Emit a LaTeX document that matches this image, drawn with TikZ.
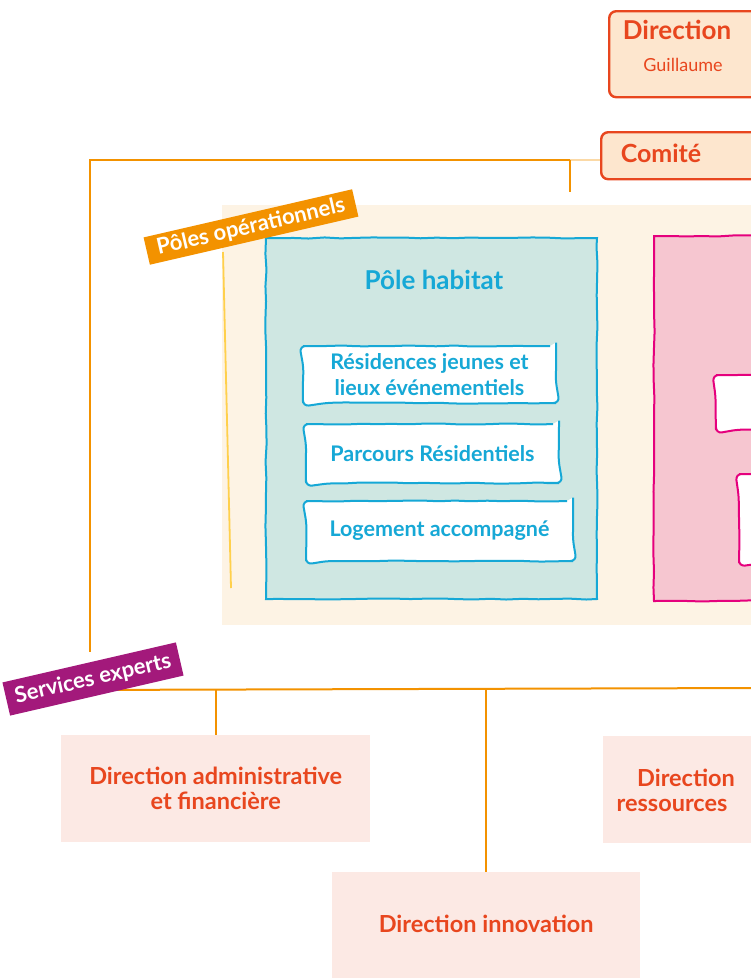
\documentclass[tikz,border=0pt]{standalone}
\usepackage{fontspec}
\setmainfont{Lato}
\usetikzlibrary{positioning, backgrounds, calc, decorations.pathmorphing}

\definecolor{dirred}{HTML}{E8461E}
\definecolor{headfill}{HTML}{FDE6CE}
\definecolor{lineorange}{HTML}{F39200}
\definecolor{polescream}{HTML}{FDF3E4}
\definecolor{lineyellow}{HTML}{FFD04C}
\definecolor{habitatfill}{HTML}{CFE7E2}
\definecolor{habitatblue}{HTML}{16A8D6}
\definecolor{pinkfill}{HTML}{F6C6D0}
\definecolor{magenta}{HTML}{E5007D}
\definecolor{tagpurple}{HTML}{A3197B}
\definecolor{servicefill}{HTML}{FCE9E4}

\begin{document}
\begin{tikzpicture}[
    x=1pt, y=-1pt,
    sketch/.style={decorate, decoration={random steps, segment length=16pt, amplitude=0.6pt}},
    link/.style={draw=lineorange, line width=2pt},
    headbox/.style={rectangle, draw=dirred, line width=2.4pt, fill=headfill, rounded corners=7pt, anchor=north west},
    headtext/.style={text=dirred, inner sep=0pt},
    zone/.style={rectangle, anchor=north west},
    habitatbox/.style={rectangle, fill=habitatfill, draw=habitatblue, line width=2pt, sketch, anchor=north west},
    itembox/.style={rectangle, fill=white, draw=habitatblue, line width=2pt, rounded corners=6pt, sketch, text=habitatblue, align=center, anchor=north west, font=\bfseries\fontsize{21.5}{26}\selectfont},
    pinkitem/.style={rectangle, fill=white, draw=magenta, line width=2pt, rounded corners=6pt, sketch, anchor=north west},
    tag/.style={rectangle, text=white, inner xsep=7pt, minimum height=28pt, rotate=13, font=\bfseries\fontsize{22}{24}\selectfont},
    servicebox/.style={rectangle, fill=servicefill, text=dirred, align=center, anchor=north west, font=\bfseries\fontsize{23.5}{25}\selectfont}
]
\pgfmathsetseed{11}
\useasboundingbox (0,0) rectangle (751,978);
\clip (0,0) rectangle (751,978);

% Direction and comite
\node[headbox, minimum width=200pt, minimum height=86pt] (direction) at (608,10) {};
\node[headtext, font=\bfseries\fontsize{26}{30}\selectfont] (dirname) at (677,30) {Direction};
\node[headtext, font=\fontsize{18}{20}\selectfont] (dirperson) at (683,65) {Guillaume};
\node[headbox, minimum width=200pt, minimum height=47pt] (comite) at (600,131) {};
\node[headtext, font=\bfseries\fontsize{25}{28}\selectfont] (comitename) at (661,153) {Comité};

% Connector from comite
\coordinate (comitejoin) at (570,160);
\coordinate (topleft) at (90,160);
\coordinate (leftend) at (90,652);
\draw[link, opacity=.35] (comite.west |- topleft) -- (comitejoin);
\draw[link] (comitejoin) -- (topleft) -- (leftend);
\draw[link] (comitejoin) -- ++(0,32);

% Poles operationnels
\node[zone, fill=polescream, minimum width=600pt, minimum height=420pt] (poles) at (222,205) {};
\draw[lineyellow, line width=1.8pt] (223,252) -- (231,588);

% Pole habitat
\node[habitatbox, minimum width=331pt, minimum height=361pt] (habitat) at (265,237) {};
\node[text=habitatblue, font=\bfseries\fontsize{26}{30}\selectfont] (habitatname) at (434,280) {Pôle habitat};
\node[itembox, minimum width=253pt, minimum height=57pt] (residences) at (302,345) {Résidences jeunes et\\lieux événementiels};
\node[itembox, minimum width=253pt, minimum height=59pt] (parcours) at (305,423) {Parcours Résidentiels};
\node[itembox, minimum width=267pt, minimum height=60pt] (logement) at (305,500) {Logement accompagné};

% Second pole (cut off)
\node[zone, fill=pinkfill, draw=magenta, line width=2pt, sketch, minimum width=160pt, minimum height=365pt] (secondpole) at (653,235) {};
\node[pinkitem, minimum width=90pt, minimum height=55pt] (secondpoleA) at (715,374) {};
\node[pinkitem, minimum width=70pt, minimum height=89pt] (secondpoleB) at (738,473) {};

% Services experts
\node[servicebox, minimum width=309pt, minimum height=107pt] (admin) at (61,735) {Direction administrative\\et financière};
\node[servicebox, minimum width=200pt, minimum height=107pt] (ressources) at (603,736) {};
\node[headtext, align=center, font=\bfseries\fontsize{23.5}{25}\selectfont] (ressourcesname) at (672,790) {\hspace*{28pt}Direction\\ressources};
\node[servicebox, minimum width=308pt, minimum height=118pt, text depth=14pt] (innovation) at (332,872) {Direction innovation};

\coordinate (srvleft) at (70,690);
\coordinate (srvright) at (760,688);
\draw[link] (srvleft) -- (srvright);
\draw[link] (admin.north |- srvleft) -- (admin.north);
\draw[link] (innovation.north |- srvleft) -- (innovation.north);

% Tags
\node[tag, fill=lineorange, minimum width=214pt] (polestag) at (251,227) {Pôles opérationnels};
\node[tag, fill=tagpurple, minimum width=178pt, minimum height=34pt] (servicestag) at (93,679) {Services experts};

\end{tikzpicture}
\end{document}
